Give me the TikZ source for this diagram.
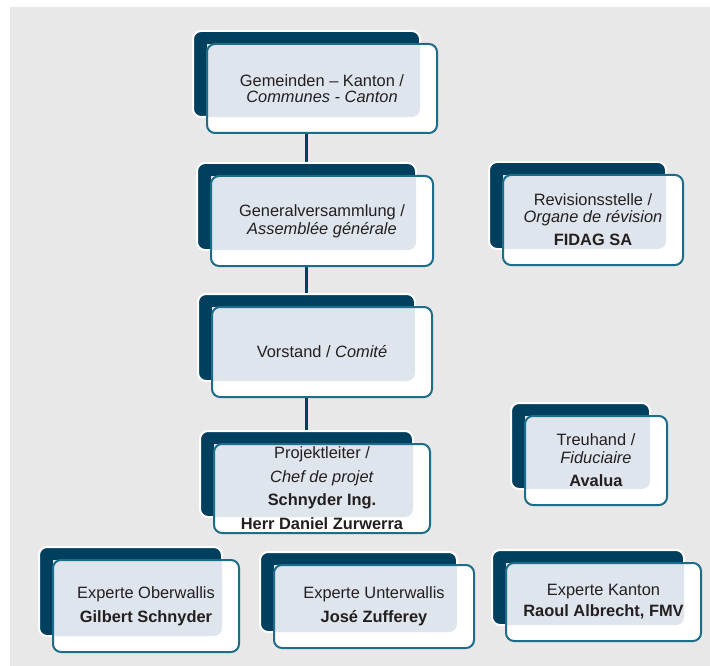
\documentclass[tikz,border=0pt]{standalone}
\usepackage{fontspec}
\setmainfont{Liberation Sans}
\usetikzlibrary{calc}
\definecolor{navy}{HTML}{003F5E}
\definecolor{tealline}{HTML}{1D6C88}
\definecolor{paleblue}{HTML}{DFE5EC}
\definecolor{panel}{HTML}{E8E8E8}
\definecolor{ink}{HTML}{231F20}
\pgfdeclarelayer{lines}
\pgfdeclarelayer{boxes}
\pgfsetlayers{lines,boxes,main}

\newcommand{\orgbox}[6]{%
  \node[front, minimum width=#4pt, minimum height=#5pt] (#1) at (#2,#3) {#6};
  \begin{pgfonlayer}{boxes}
    \node[back, minimum width=#4pt-3pt, minimum height=#5pt-3pt] (#1-b) at ($(#1)+(-15.5,-14.5)$) {};
    \fill[white, rounded corners=8pt] (#1.north west) rectangle (#1.south east);
    \begin{scope}
      \clip[rounded corners=8pt] (#1-b.north west) rectangle (#1-b.south east);
      \fill[paleblue] (#1.north west) rectangle (#1.south east);
    \end{scope}
  \end{pgfonlayer}
}

\begin{document}
\begin{tikzpicture}[x=1pt, y=-1pt,
  front/.style={draw=tealline, line width=2pt, rounded corners=8pt, inner sep=0pt,
    outer sep=0pt, align=center, text=ink, font=\fontsize{16.4}{17}\selectfont},
  back/.style={fill=navy, draw=white, line width=2pt, rounded corners=8pt,
    inner sep=0pt, outer sep=0pt},
  link/.style={draw=navy, line width=3pt}]
\useasboundingbox (0,0) rectangle (710,666);
\begin{pgfonlayer}{lines}
\fill[panel] (10,7) rectangle (710,666);
\end{pgfonlayer}

\orgbox{gk}{322}{88.5}{230}{89}{Gemeinden – Kanton /\\[-1pt] \textit{Communes - Canton}}
\orgbox{gv}{322}{221}{222}{90}{Generalversammlung /\\[1pt] \textit{Assemblée générale}}
\orgbox{vs}{322}{352}{220}{90}{Vorstand / \textit{Comité}}
\orgbox{pl}{322}{488.5}{216}{89}{Projektleiter /\\[7pt] \textit{Chef de projet}\\[6pt] \textbf{Schnyder Ing.}\\[7pt] \textbf{Herr Daniel Zurwerra}}
\orgbox{rev}{593}{220}{180}{90}{Revisionsstelle /\\ \textit{Organe de révision}\\[6pt] \textbf{FIDAG SA}}
\orgbox{tr}{596}{460.5}{142}{89}{Treuhand /\\[1pt] \textit{Fiduciaire}\\[6pt] \textbf{Avalua}}
\orgbox{ow}{146}{606}{186}{92}{Experte Oberwallis\\[7pt] \textbf{Gilbert Schnyder}}
\orgbox{uw}{374}{606.5}{200}{83}{Experte Unterwallis\\[7pt] \textbf{José Zufferey}}
\orgbox{ek}{603.5}{602}{195}{78}{Experte Kanton\\[4pt] \textbf{Raoul Albrecht, FMV}}

\begin{pgfonlayer}{lines}
\draw[link] (gk-b.south) -- (gv-b.north);
\draw[link] (gv-b.south) -- (vs-b.north);
\draw[link] (vs-b.south) -- (pl-b.north);
\end{pgfonlayer}
\end{tikzpicture}
\end{document}
